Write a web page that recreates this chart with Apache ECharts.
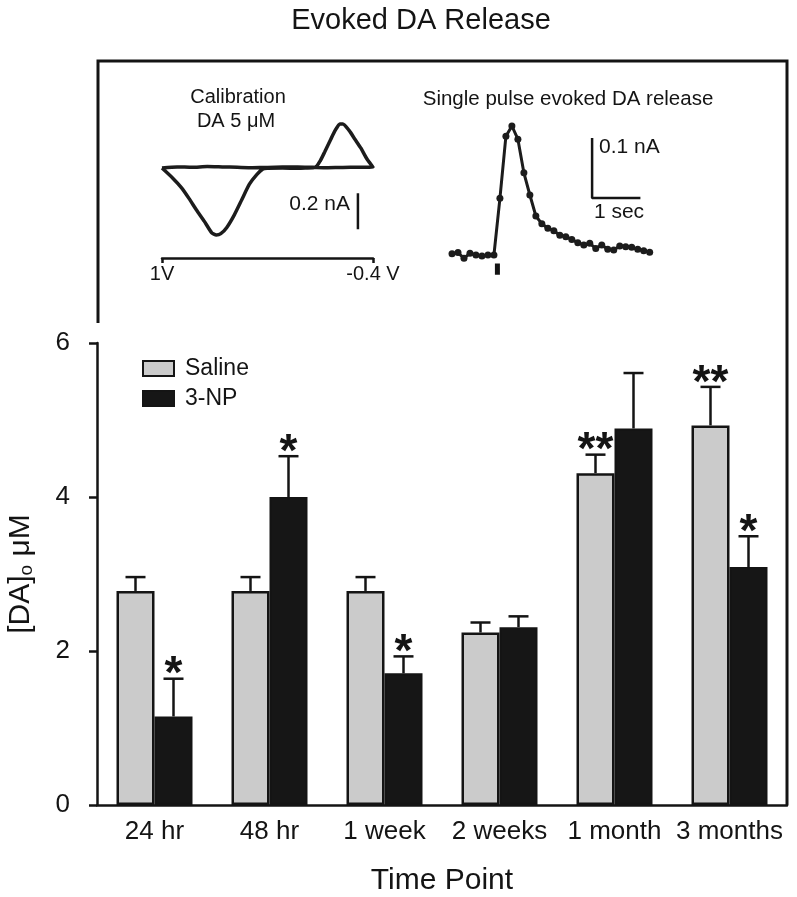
<!DOCTYPE html>
<html><head><meta charset="utf-8">
<script src="https://cdn.jsdelivr.net/npm/echarts@6/dist/echarts.min.js"></script>
<style>html,body{margin:0;padding:0;background:#fff}#c{width:797px;height:897px}</style>
</head><body><div id="c"></div>
<script>
// ---- main bar chart data ----
const categories = ['24 hr', '48 hr', '1 week', '2 weeks', '1 month', '3 months'];
const salineMean = [2.78, 2.78, 2.78, 2.24, 4.31, 4.93];
const salineErr  = [0.18, 0.18, 0.18, 0.13, 0.24, 0.50];
const npMean     = [1.15, 4.00, 1.71, 2.31, 4.89, 3.09];
const npErr      = [0.49, 0.53, 0.22, 0.14, 0.72, 0.40];
const salineSig  = ['', '', '', '', '**', '**'];
const npSig      = ['*', '*', '*', '', '', '*'];
const yTicks = [0, 2, 4, 6];

// ---- inset: calibration cyclic voltammogram (V, nA) ----
const cvVoltage = [1.0, 0.9, 0.8, 0.7, 0.6, 0.5, 0.4, 0.3, 0.2, 0.1, 0.0, -0.1, -0.2, -0.3, -0.4,
  -0.36, -0.32, -0.28, -0.24, -0.2, -0.18, -0.15, -0.12, -0.08, -0.05, -0.02, 0.05, 0.1, 0.2, 0.3,
  0.33, 0.37, 0.42, 0.47, 0.52, 0.57, 0.61, 0.64, 0.67, 0.72, 0.77, 0.82, 0.87, 0.93, 1.0];
const cvCurrent = [0.0, 0.006, 0.004, 0.008, 0.006, 0.004, 0.002, 0.003, 0.005, 0.006, 0.004, 0.002, 0.003, 0.004, 0.005,
  0.05, 0.11, 0.16, 0.21, 0.245, 0.245, 0.21, 0.16, 0.09, 0.04, 0.005, 0.0, -0.002, 0.0, -0.002,
  -0.005, -0.035, -0.09, -0.175, -0.26, -0.33, -0.365, -0.372, -0.36, -0.295, -0.235, -0.17, -0.11, -0.055, 0.0];
const cvAxisTicks = [-0.4, 1.0];
const cvScaleBar = { voltage: -0.30, from: -0.14, to: -0.34, label: '0.2 nA' };

// ---- inset: single pulse evoked release trace (nA per sample) ----
const SAMPLE_DT = 0.124; // seconds between samples
const traceCurrent = [0.002, 0.004, -0.0055, 0.003, 0.0, -0.0017, 0.0, 0.0,
  0.0945, 0.198, 0.215, 0.193, 0.137, 0.100, 0.065, 0.052, 0.0445, 0.0405, 0.033, 0.0305,
  0.026, 0.0205, 0.0167, 0.0195, 0.011, 0.0167, 0.0095, 0.0083, 0.015, 0.0138, 0.0128,
  0.0095, 0.0072, 0.0045];
const stimulus = { time: 0.94, from: -0.014, to: -0.033 };
const traceScaleBar = { time: 2.9, length: 1.0, top: 0.195, bottom: 0.095, yLabel: '0.1 nA', xLabel: '1 sec' };

const FONT = '"Liberation Sans", Arial, Helvetica, sans-serif';
const INK = '#141414';
const BAR_W = 38;
const CAP = 10;

const chart = echarts.init(document.getElementById('c'), null, { renderer: 'canvas' });

function errorSeries(name, means, errs, sigs, dir) {
  return {
    type: 'custom',
    name: name + ' err',
    xAxisIndex: 0, yAxisIndex: 0,
    silent: true,
    z: 5,
    data: means.map((m, i) => [i, m, errs[i]]),
    renderItem: function (params, api) {
      const i = api.value(0), m = api.value(1), e = api.value(2);
      const sig = sigs[params.dataIndex];
      const base = api.coord([i, m]);
      const top = api.coord([i, m + e]);
      const x = base[0] + dir * BAR_W / 2;
      const children = [
        { type: 'line', shape: { x1: x, y1: base[1], x2: x, y2: top[1] }, style: { stroke: INK, lineWidth: 2.5 } },
        { type: 'line', shape: { x1: x - CAP, y1: top[1], x2: x + CAP, y2: top[1] }, style: { stroke: INK, lineWidth: 2.5 } }
      ];
      if (sig) {
        children.push({ type: 'text', x: x, y: top[1] + 20,
          style: { text: sig, fill: INK, font: 'bold 46px ' + FONT, textAlign: 'center', textVerticalAlign: 'bottom' } });
      }
      return { type: 'group', children: children };
    }
  };
}

const option = {
  backgroundColor: '#fff',
  animation: false,
  textStyle: { fontFamily: FONT, color: INK },
  grid: [
    { left: 97, right: 10, top: 343, bottom: 92, outerBoundsMode: 'none', containLabel: false },   // main chart
    { left: 162, width: 211, top: 114, height: 144, outerBoundsMode: 'none', containLabel: false }, // CV inset
    { left: 452, width: 202.9, top: 105, height: 180, outerBoundsMode: 'none', containLabel: false } // trace inset
  ],
  legend: {
    orient: 'vertical', left: 137, top: 352, itemWidth: 31, itemHeight: 15, itemGap: 7,
    icon: 'rect',
    textStyle: { fontSize: 23, color: INK, fontFamily: FONT, padding: [0, 0, 0, 6] },
    data: ['Saline', '3-NP']
  },
  xAxis: [
    {
      type: 'category', gridIndex: 0, data: categories,
      axisLine: { lineStyle: { color: INK, width: 2.5 } },
      axisTick: { alignWithLabel: true, length: 8, lineStyle: { color: INK, width: 2.5 } },
      axisLabel: { fontSize: 26, color: INK, margin: 14, fontFamily: FONT, interval: 0 },
      name: 'Time Point', nameLocation: 'middle', nameGap: 61,
      nameTextStyle: { fontSize: 30, color: INK, fontFamily: FONT }
    },
    {
      type: 'value', gridIndex: 1, min: -0.4, max: 1.0, interval: 1.4, inverse: true,
      axisLine: { onZero: false, lineStyle: { color: INK, width: 2.5 } },
      axisTick: { length: 5, lineStyle: { color: INK, width: 2.5 } },
      splitLine: { show: false },
      axisLabel: { fontSize: 20, color: INK, margin: 6, fontFamily: FONT, showMinLabel: true, showMaxLabel: true,
        formatter: v => (Math.abs(v - 1) < 1e-6 ? '1V' : '-0.4 V') }
    },
    { type: 'value', gridIndex: 2, min: 0, max: 4.2, show: false }
  ],
  yAxis: [
    {
      type: 'value', gridIndex: 0, min: 0, max: 6, interval: 2,
      axisLine: { show: true, lineStyle: { color: INK, width: 2.5 } },
      axisTick: { show: true, length: 8, lineStyle: { color: INK, width: 2.5 } },
      splitLine: { show: false },
      axisLabel: { fontSize: 26, color: INK, margin: 27, fontFamily: FONT },
      name: '[DA]{o|o} μM', nameLocation: 'middle', nameGap: 61, nameRotate: 90,
      nameTextStyle: { fontSize: 30, color: INK, fontFamily: FONT,
        rich: { o: { fontSize: 19, color: INK, fontFamily: FONT, padding: [12, 0, 0, 0] } } }
    },
    { type: 'value', gridIndex: 1, min: -0.5, max: 0.3, show: false },
    { type: 'value', gridIndex: 2, min: -0.05, max: 0.25, show: false }
  ],
  series: [
    {
      name: 'Saline', type: 'bar', xAxisIndex: 0, yAxisIndex: 0, barWidth: BAR_W, barGap: '0%',
      itemStyle: { color: '#cbcbcb', borderColor: INK, borderWidth: 2.5 },
      data: salineMean
    },
    {
      name: '3-NP', type: 'bar', xAxisIndex: 0, yAxisIndex: 0, barWidth: BAR_W, barGap: '0%',
      itemStyle: { color: '#161616', borderColor: INK, borderWidth: 2.5 },
      data: npMean
    },
    errorSeries('Saline', salineMean, salineErr, salineSig, -1),
    errorSeries('3-NP', npMean, npErr, npSig, 1),
    // CV trace
    {
      type: 'line', xAxisIndex: 1, yAxisIndex: 1, showSymbol: false, silent: true,
      lineStyle: { color: '#1c1c1c', width: 3.5 }, smooth: 0.2,
      data: cvVoltage.map((v, k) => [v, cvCurrent[k]])
    },
    // CV current scale bar
    {
      type: 'line', xAxisIndex: 1, yAxisIndex: 1, showSymbol: false, silent: true,
      lineStyle: { color: INK, width: 2.5 },
      data: [[cvScaleBar.voltage, cvScaleBar.from], [cvScaleBar.voltage, cvScaleBar.to]]
    },
    // evoked release trace
    {
      type: 'line', xAxisIndex: 2, yAxisIndex: 2, silent: true,
      symbol: 'circle', symbolSize: 7, showSymbol: true,
      itemStyle: { color: '#1c1c1c' },
      lineStyle: { color: '#1c1c1c', width: 3 },
      data: traceCurrent.map((c, k) => [k * SAMPLE_DT, c])
    },
    // stimulus marker
    {
      type: 'line', xAxisIndex: 2, yAxisIndex: 2, showSymbol: false, silent: true,
      lineStyle: { color: INK, width: 5 },
      data: [[stimulus.time, stimulus.from], [stimulus.time, stimulus.to]]
    },
    // trace scale bar (L shape)
    {
      type: 'line', xAxisIndex: 2, yAxisIndex: 2, showSymbol: false, silent: true,
      lineStyle: { color: INK, width: 2.5 },
      data: [[traceScaleBar.time, traceScaleBar.top], [traceScaleBar.time, traceScaleBar.bottom],
             [traceScaleBar.time + traceScaleBar.length, traceScaleBar.bottom]]
    }
  ],
  graphic: [
    { type: 'polyline', silent: true, z: 10,
      shape: { points: [[98, 323], [98, 61], [787, 61], [787, 805]] },
      style: { stroke: INK, lineWidth: 3, fill: null } },
    { type: 'text', x: 421, y: 21, style: { text: 'Evoked DA Release', font: '29px ' + FONT, fill: INK, textAlign: 'center', textVerticalAlign: 'middle' } },
    { type: 'text', x: 238, y: 97, style: { text: 'Calibration', font: '20px ' + FONT, fill: INK, textAlign: 'center', textVerticalAlign: 'middle' } },
    { type: 'text', x: 236, y: 121, style: { text: 'DA 5 μM', font: '20px ' + FONT, fill: INK, textAlign: 'center', textVerticalAlign: 'middle' } },
    { type: 'text', x: 568, y: 99, style: { text: 'Single pulse evoked DA release', font: '20.5px ' + FONT, fill: INK, textAlign: 'center', textVerticalAlign: 'middle' } },
    { type: 'text', x: 350, y: 204, style: { text: cvScaleBar.label, font: '21px ' + FONT, fill: INK, textAlign: 'right', textVerticalAlign: 'middle' } },
    { type: 'text', x: 599, y: 147, style: { text: traceScaleBar.yLabel, font: '21px ' + FONT, fill: INK, textAlign: 'left', textVerticalAlign: 'middle' } },
    { type: 'text', x: 619, y: 212, style: { text: traceScaleBar.xLabel, font: '21px ' + FONT, fill: INK, textAlign: 'center', textVerticalAlign: 'middle' } }
  ]
};
chart.setOption(option);
</script>
</body></html>
